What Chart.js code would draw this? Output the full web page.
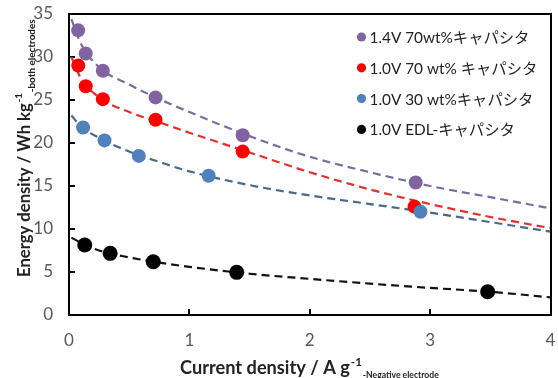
<!DOCTYPE html>
<html><head><meta charset="utf-8">
<script src="https://cdn.jsdelivr.net/npm/chart.js@4.4.1/dist/chart.umd.min.js"></script>
<style>html,body{margin:0;padding:0;background:#fff}#wrap{width:558px;height:378px}</style>
</head><body><div id="wrap"><canvas id="c" width="558" height="378"></canvas></div>
<script>
// ---- data ----
const seriesLabels = ['1.4V 70wt%キャパシタ', '1.0V 70 wt% キャパシタ', '1.0V 30 wt%キャパシタ', '1.0V EDL-キャパシタ'];
const purpleX = [0.076, 0.139, 0.281, 0.719, 1.443, 2.88];
const purpleY = [33.1, 30.4, 28.4, 25.3, 20.9, 15.4];
const redX = [0.077, 0.139, 0.281, 0.719, 1.443, 2.87];
const redY = [29.0, 26.6, 25.1, 22.7, 19.0, 12.6];
const blueX = [0.117, 0.295, 0.58, 1.16, 2.92];
const blueY = [21.8, 20.3, 18.5, 16.2, 12.0];
const blackX = [0.131, 0.342, 0.70, 1.393, 3.478];
const blackY = [8.14, 7.17, 6.2, 4.96, 2.71];
// dashed trend curves
const trendX = [0.02, 0.1, 0.25, 0.5, 0.75, 1, 1.5, 2, 2.5, 3, 3.5, 4];
const purpleTrend = [34.4, 31.5, 28.8, 26.8, 25.1, 23.6, 20.8, 18.4, 16.6, 15.0, 13.7, 12.4];
const redTrend = [30.0, 27.5, 25.3, 23.6, 22.4, 21.2, 18.9, 16.6, 14.6, 12.9, 11.4, 10.1];
const blueTrend = [23.2, 21.9, 20.6, 19.0, 17.8, 16.7, 15.1, 13.9, 12.9, 11.9, 10.8, 9.7];
const blackTrend = [9.0, 8.4, 7.5, 6.7, 6.1, 5.6, 4.8, 4.2, 3.65, 3.15, 2.7, 2.05];
const xTicks = [0, 1, 2, 3, 4];
const yTicks = [0, 5, 10, 15, 20, 25, 30, 35];
const xTitle = ['Current density / A g', '-1', '-Negative electrode'];
const yTitle = ['Energy density / Wh kg', '-1', '-both electrodes'];

// ---- styles ----
const pointColors = ['#8064a2', '#ff0000', '#4f81bd', '#000000'];
const lineColors = ['#7a6c9c', '#e2302c', '#48698c', '#111111'];
const FAM = 'Lato, "Noto Sans CJK JP", sans-serif';

const pts = (xs, ys) => xs.map((x, i) => ({x, y: ys[i]}));
const pointSets = [pts(purpleX, purpleY), pts(redX, redY), pts(blueX, blueY), pts(blackX, blackY)];
const trendSets = [purpleTrend, redTrend, blueTrend, blackTrend].map(t => pts(trendX, t));
const pointOrder = [4, 3, 2, 1];

const datasets = [];
pointSets.forEach((d, i) => datasets.push({
  label: seriesLabels[i], data: d, showLine: false, order: pointOrder[i],
  pointRadius: i === 3 ? 7.5 : 7, pointBackgroundColor: pointColors[i], pointBorderWidth: 0,
  backgroundColor: pointColors[i], borderColor: pointColors[i]
}));
trendSets.forEach((d, i) => datasets.push({
  label: seriesLabels[i] + ' trend', data: d, showLine: true, order: 10 + i,
  pointRadius: 0, borderColor: lineColors[i], borderWidth: 2.2, borderDash: [8, 5],
  cubicInterpolationMode: 'monotone', fill: false
}));

function fitSize(ctx, text, weight, width) {
  ctx.font = weight + ' 20px ' + FAM;
  return 20 * width / ctx.measureText(text).width;
}
function drawTitle(ctx, parts, widths, subDy, supDy) {
  const s0 = fitSize(ctx, parts[0], 'bold', widths[0]);
  ctx.font = 'bold ' + s0 + 'px ' + FAM;
  ctx.fillText(parts[0], 0, 0);
  let x = ctx.measureText(parts[0]).width + 1;
  const s1 = fitSize(ctx, parts[1], 'bold', widths[1]);
  ctx.font = 'bold ' + s1 + 'px ' + FAM;
  ctx.fillText(parts[1], x, supDy);
  x += ctx.measureText(parts[1]).width + 1;
  const s2 = fitSize(ctx, parts[2], 'bold', widths[2]);
  ctx.font = 'bold ' + s2 + 'px ' + FAM;
  ctx.fillText(parts[2], x, subDy);
}

const decor = {
  id: 'decor',
  afterDraw(chart) {
    const {ctx, chartArea: a} = chart;
    ctx.save();
    // legend
    const lx = a.right - 189, ly = a.top + 23, step = 30.8;
    const ls = fitSize(ctx, seriesLabels[0], 'normal', 160);
    seriesLabels.forEach((t, i) => {
      const y = ly + i * step;
      ctx.fillStyle = pointColors[i];
      ctx.beginPath(); ctx.arc(lx, y, 4.6, 0, Math.PI * 2); ctx.fill();
      ctx.fillStyle = '#222';
      ctx.font = ls + 'px ' + FAM; ctx.textBaseline = 'middle'; ctx.textAlign = 'left';
      ctx.fillText(t, lx + 8, y + 1);
    });
    // axis titles
    ctx.fillStyle = '#222'; ctx.textBaseline = 'alphabetic';
    ctx.save(); ctx.translate(180, 374);
    drawTitle(ctx, xTitle, [170, 11, 76], 4, -8);
    ctx.restore();
    ctx.save(); ctx.translate(30, 277); ctx.rotate(-Math.PI / 2);
    drawTitle(ctx, yTitle, [174, 9, 73], 5, -8);
    ctx.restore();
    ctx.restore();
  }
};

const edge = {display: true, color: '#000', width: 2, z: 1};
new Chart(document.getElementById('c'), {
  type: 'scatter',
  data: {datasets},
  plugins: [decor],
  options: {
    responsive: false, animation: false, devicePixelRatio: 1,
    layout: {padding: {top: 14, right: 1, left: 0, bottom: 0}},
    plugins: {legend: {display: false}, tooltip: {enabled: false}},
    scales: {
      x: {
        type: 'linear', min: 0, max: 4, position: 'bottom',
        afterBuildTicks: s => { s.ticks = xTicks.map(v => ({value: v})); },
        afterFit: s => { s.height = 63; s.paddingLeft = 0; s.paddingRight = 0; },
        grid: {display: true, drawOnChartArea: false, drawTicks: true, tickLength: -6, color: '#000', lineWidth: 2},
        border: edge,
        ticks: {padding: 21, color: '#595959', font: {family: FAM, size: 17}}
      },
      y: {
        type: 'linear', min: 0, max: 35, position: 'left',
        afterBuildTicks: s => { s.ticks = yTicks.map(v => ({value: v})); },
        afterFit: s => { s.width = 69; s.paddingTop = 0; s.paddingBottom = 0; },
        grid: {display: true, drawOnChartArea: false, drawTicks: true, tickLength: -6, color: '#000', lineWidth: 2},
        border: edge,
        ticks: {padding: 22, color: '#595959', font: {family: FAM, size: 17}}
      },
      x2: {
        type: 'linear', min: 0, max: 4, position: 'top', display: true,
        afterFit: s => { s.height = 0; s.paddingLeft = 0; s.paddingRight = 0; },
        grid: {display: false}, border: edge, ticks: {display: false}
      },
      y2: {
        type: 'linear', min: 0, max: 35, position: 'right', display: true,
        afterFit: s => { s.width = 0; s.paddingTop = 0; s.paddingBottom = 0; },
        grid: {display: false}, border: edge, ticks: {display: false}
      }
    }
  }
});
</script></body></html>
